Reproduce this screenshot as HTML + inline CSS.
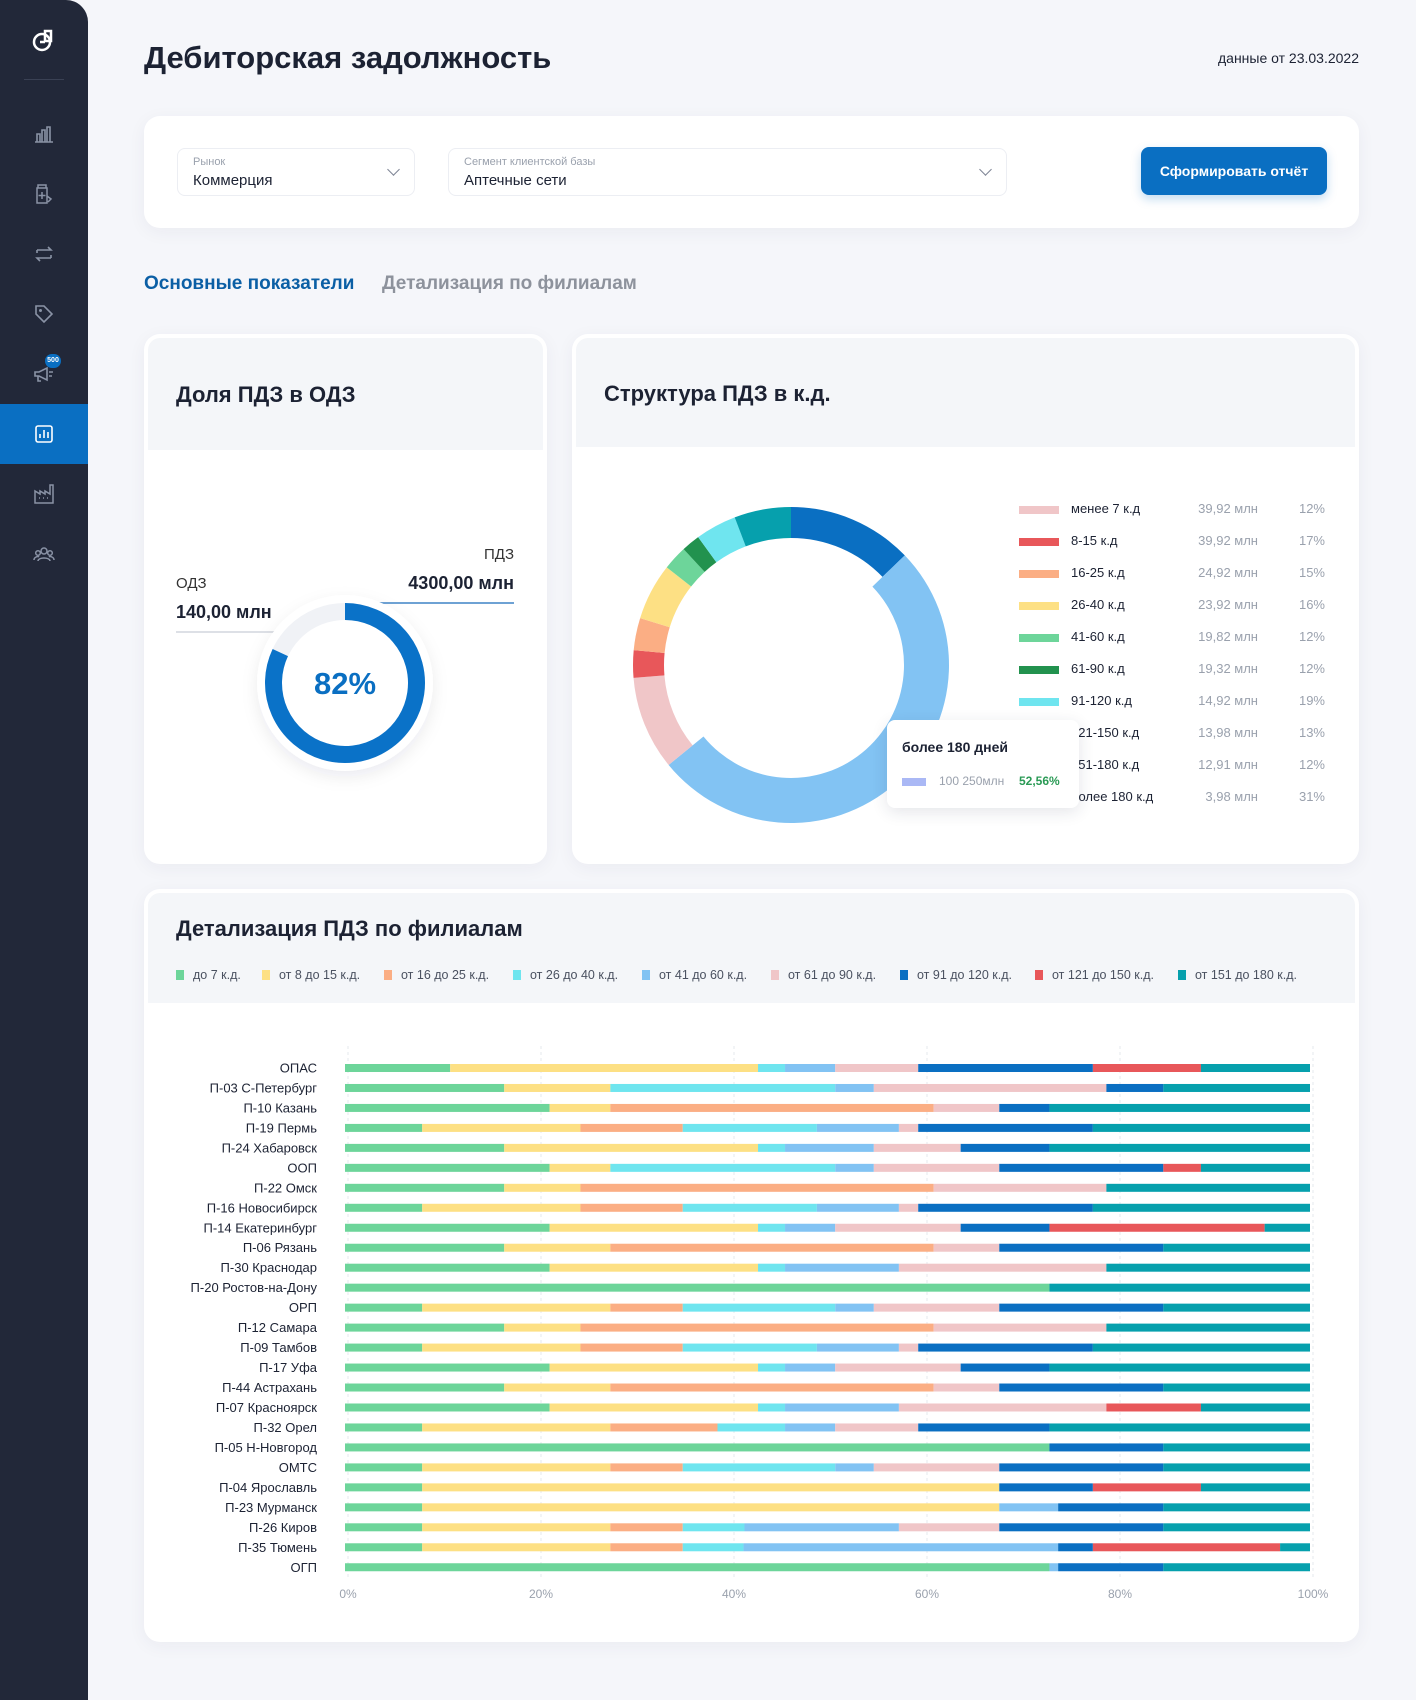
<!DOCTYPE html>
<html lang="ru"><head><meta charset="utf-8">
<style>
*{box-sizing:border-box;margin:0;padding:0}
body{width:1416px;height:1700px;background:#f5f6fa;font-family:"Liberation Sans","DejaVu Sans",sans-serif;color:#1c2233;position:relative;overflow:hidden}
.abs{position:absolute}
#sidebar{left:0;top:0;width:88px;height:1700px;background:#222839;border-top-right-radius:22px}
.ico{position:absolute;left:32px;width:24px;height:24px}
.card{position:absolute;background:#fff;border-radius:16px;box-shadow:0 4px 18px rgba(30,40,70,.05);overflow:hidden}
.chead{position:absolute;left:4px;right:4px;top:4px;background:#f4f6f9;border-radius:12px 12px 0 0}
.ctitle{position:absolute;font-weight:bold;font-size:22px;color:#1c2233}
.dd{position:absolute;top:148px;height:48px;border:1px solid #eceef3;border-radius:8px;background:#fff}
.dd .l{position:absolute;left:15px;top:7px;font-size:11px;color:#9aa1ad}
.dd .v{position:absolute;left:15px;top:23px;font-size:15px;color:#1c2233}
.dd .ch{position:absolute;right:16px;top:16px;width:9px;height:9px;border-right:1.6px solid #7d8494;border-bottom:1.6px solid #7d8494;transform:rotate(45deg)}
.lg{position:absolute;font-size:13px}
.leg2 span{display:inline-block}
</style></head><body>
<div id="sidebar" class="abs">
  <svg class="ico" style="top:27px;width:26px;height:26px;left:31px" viewBox="0 0 26 26"><circle cx="11" cy="15" r="8" fill="none" stroke="#fff" stroke-width="2.5"/><path d="M9 15h5 M14 4h6v10h-6z" stroke="#fff" stroke-width="2.5" fill="none"/></svg>
  <div class="abs" style="left:24px;top:79px;width:40px;height:1px;background:#3a4154"></div>
  <svg class="ico" style="top:122px" viewBox="0 0 24 24"><path d="M3 20h18M5 20v-8h3v8M10 20V8h3v12M15 20V5h3v15" stroke="#8a93a6" stroke-width="1.6" fill="none"/></svg>
  <svg class="ico" style="top:182px" viewBox="0 0 24 24"><path d="M6 3h8v3H6zM5 6h10v15H5zM10 10v7M6.5 13.5h7M15 14l4 3-3 3" stroke="#8a93a6" stroke-width="1.5" fill="none"/></svg>
  <svg class="ico" style="top:242px" viewBox="0 0 24 24"><path d="M5 8h14l-3-3M19 16H5l3 3M5 8v3M19 16v-3" stroke="#8a93a6" stroke-width="1.6" fill="none"/></svg>
  <svg class="ico" style="top:302px" viewBox="0 0 24 24"><path d="M4 4h8l8 8-8 8-8-8z" stroke="#8a93a6" stroke-width="1.6" fill="none"/><circle cx="8.5" cy="8.5" r="1.5" fill="#8a93a6"/></svg>
  <svg class="ico" style="top:362px" viewBox="0 0 24 24"><path d="M3 10h4l8-4v12l-8-4H3zM6 14v5h3M17 10h4M17 14h3" stroke="#8a93a6" stroke-width="1.6" fill="none"/></svg>
  <div class="abs" style="left:45px;top:354px;width:16px;height:14px;border-radius:7px;background:#0a6fc2;color:#fff;font-size:7px;font-weight:bold;text-align:center;line-height:14px">500</div>
  <div class="abs" style="left:0;top:404px;width:88px;height:60px;background:#0a6fc2"></div>
  <svg class="ico" style="top:422px" viewBox="0 0 24 24"><rect x="4" y="4" width="16" height="16" rx="2" stroke="#fff" stroke-width="1.6" fill="none"/><path d="M8 16v-4M12 16V8M16 16v-6" stroke="#fff" stroke-width="1.6"/></svg>
  <svg class="ico" style="top:482px" viewBox="0 0 24 24"><path d="M3 21V9l5 3V9l5 3V9l5 3V3h3v18zM7 16h1M11 16h1M15 16h1" stroke="#8a93a6" stroke-width="1.5" fill="none"/></svg>
  <svg class="ico" style="top:542px" viewBox="0 0 24 24"><circle cx="12" cy="9" r="3" stroke="#8a93a6" stroke-width="1.5" fill="none"/><circle cx="6" cy="11" r="2.3" stroke="#8a93a6" stroke-width="1.5" fill="none"/><circle cx="18" cy="11" r="2.3" stroke="#8a93a6" stroke-width="1.5" fill="none"/><path d="M6 19c0-4 12-4 12 0M2 18c0-3 4-4 5-3M22 18c0-3-4-4-5-3" stroke="#8a93a6" stroke-width="1.5" fill="none"/></svg>
</div>

<div class="abs" style="left:144px;top:40px;font-size:31px;font-weight:bold">Дебиторская задолжность</div>
<div class="abs" style="right:57px;top:50px;font-size:14px;color:#1c2233">данные от 23.03.2022</div>

<div class="card" style="left:144px;top:116px;width:1215px;height:112px"></div>
<div class="dd" style="left:177px;width:238px"><div class="l">Рынок</div><div class="v">Коммерция</div><div class="ch"></div></div>
<div class="dd" style="left:448px;width:559px"><div class="l">Сегмент клиентской базы</div><div class="v">Аптечные сети</div><div class="ch"></div></div>
<div class="abs" style="left:1141px;top:147px;width:186px;height:48px;border-radius:8px;background:#0a6fc2;color:#fff;font-size:14px;font-weight:bold;text-align:center;line-height:48px;box-shadow:0 4px 10px rgba(10,111,194,.25)">Сформировать отчёт</div>

<div class="abs" style="left:144px;top:273px;font-size:19px;font-weight:bold;color:#0b5fa5">Основные показатели</div>
<div class="abs" style="left:382px;top:273px;font-size:19px;font-weight:bold;color:#8d929c">Детализация по филиалам</div>

<!-- Card 1 -->
<div class="card" style="left:144px;top:334px;width:403px;height:530px">
  <div class="chead" style="height:112px"></div>
  <div class="ctitle" style="left:32px;top:48px">Доля ПДЗ в ОДЗ</div>
  <div class="abs" style="left:32px;top:241px;font-size:15px;color:#333">ОДЗ</div>
  <div class="abs" style="left:32px;top:268px;font-size:18px;font-weight:bold">140,00 млн</div>
  <div class="abs" style="left:32px;top:297px;width:114px;height:2px;background:#dde0e6"></div>
  <div class="abs" style="right:33px;top:212px;font-size:15px;color:#333">ПДЗ</div>
  <div class="abs" style="right:33px;top:239px;font-size:18px;font-weight:bold">4300,00 млн</div>
  <div class="abs" style="left:202px;top:268px;width:168px;height:2px;background:#6ea2d4"></div>
  <svg class="abs" style="left:0;top:0" width="403" height="530">
    <defs><filter id="sh" x="-30%" y="-30%" width="160%" height="160%"><feDropShadow dx="0" dy="6" stdDeviation="8" flood-color="#1c2a4a" flood-opacity=".08"/></filter></defs>
    <circle cx="201" cy="349" r="88" fill="#fff" filter="url(#sh)"/>
    <circle cx="201" cy="349" r="71.5" fill="none" stroke="#f0f2f6" stroke-width="17"/>
    <path id="shareArc" fill="none" stroke="#0a72c8" stroke-width="17"/>
    <text x="201" y="360" text-anchor="middle" font-size="31" font-weight="bold" fill="#0a6fc2">82%</text>
  </svg>
</div>

<!-- Card 2 -->
<div class="card" style="left:572px;top:334px;width:787px;height:530px">
  <div class="chead" style="height:109px"></div>
  <div class="ctitle" style="left:32px;top:47px">Структура ПДЗ в к.д.</div>
  <svg id="donut2" class="abs" style="left:0;top:0" width="787" height="530"></svg>
  <div id="legend2" class="abs" style="left:0;top:0;width:787px;height:530px"></div>
  <div class="abs" style="left:315px;top:386px;width:192px;height:88px;background:#fff;border-radius:8px;box-shadow:0 4px 16px rgba(30,40,70,.12)">
    <div class="abs" style="left:15px;top:19px;font-size:14px;font-weight:bold">более 180 дней</div>
    <div class="abs" style="left:15px;top:58px;width:24px;height:8px;background:#aab8f5"></div>
    <div class="abs" style="left:52px;top:54px;font-size:12px;color:#9aa1ad">100 250млн</div>
    <div class="abs" style="left:132px;top:54px;font-size:12px;color:#2a9a55;font-weight:bold">52,56%</div>
  </div>
</div>

<!-- Card 3 -->
<div class="card" style="left:144px;top:889px;width:1215px;height:753px">
  <div class="chead" style="height:110px"></div>
  <div class="ctitle" style="left:32px;top:27px">Детализация ПДЗ по филиалам</div>
  <div id="legend3" class="abs" style="left:0;top:0;width:1215px;height:110px"></div>
  <svg id="bars" class="abs" style="left:-144px;top:-889px" width="1416" height="1700"></svg>
</div>

<script>
// ---------- Donut 1 ----------
const shareValue = 82;
// ---------- Donut 2 data ----------
const segNames = ["91-120 blue","более 180","менее 7","8-15","16-25","26-40","41-60","61-90","91-120","151-180"];
const segValues = [12.8, 51.3, 9.6, 2.8, 3.3, 5.8, 2.5, 1.9, 4.2, 5.8];
const segColors = ["#0a6fc2","#82c3f3","#f0c6c8","#e8575a","#fbae84","#fde084","#6dd59a","#22924e","#6fe5ef","#06a0ad"];
const segHover = [false,true,false,false,false,false,false,false,false,false];
const legLabels = ["менее 7 к.д","8-15 к.д","16-25 к.д","26-40 к.д","41-60 к.д","61-90 к.д","91-120 к.д","121-150 к.д","151-180 к.д","более 180 к.д"];
const legValues = ["39,92 млн","39,92 млн","24,92 млн","23,92 млн","19,82 млн","19,32 млн","14,92 млн","13,98 млн","12,91 млн","3,98 млн"];
const legPercents = ["12%","17%","15%","16%","12%","12%","19%","13%","12%","31%"];
const legColors = ["#f0c6c8","#e8575a","#fbae84","#fde084","#6dd59a","#22924e","#6fe5ef","#06a0ad","#0a6fc2","#82c3f3"];
// ---------- Stacked bars data ----------
const seriesNames = ["до 7 к.д.","от 8 до 15 к.д.","от 16 до 25 к.д.","от 26 до 40 к.д.","от 41 до 60 к.д.","от 61 до 90 к.д.","от 91 до 120 к.д.","от 121 до 150 к.д.","от 151 до 180 к.д."];
const seriesColors = ["#6dd59a","#fde084","#fbae84","#6fe5ef","#82c3f3","#f0c6c8","#0a6fc2","#e8575a","#06a0ad"];
const branches = ["ОПАС","П-03 С-Петербург","П-10 Казань","П-19 Пермь","П-24 Хабаровск","ООП","П-22 Омск","П-16 Новосибирск","П-14 Екатеринбург","П-06 Рязань","П-30 Краснодар","П-20 Ростов-на-Дону","ОРП","П-12 Самара","П-09 Тамбов","П-17 Уфа","П-44 Астрахань","П-07 Красноярск","П-32 Орел","П-05 Н-Новгород","ОМТС","П-04 Ярославль","П-23 Мурманск","П-26 Киров","П-35 Тюмень","ОГП"];
const branchValues = [
 [10.9,31.9,0,2.8,5.2,8.6,18.1,11.2,11.3],
 [16.5,11,0,23.3,4,24.1,5.9,0,15.2],
 [21.2,6.3,33.5,0,0,6.8,5.2,0,27],
 [8,16.4,10.6,13.9,8.5,2,18.1,0,22.5],
 [16.5,26.3,0,2.8,9.2,9,9.2,0,27],
 [21.2,6.3,0,23.3,4,13,17,3.9,11.3],
 [16.5,7.9,36.6,0,0,17.9,0,0,21.1],
 [8,16.4,10.6,13.9,8.5,2,18.1,0,22.5],
 [21.2,21.6,0,2.8,5.2,13,9.2,22.3,4.7],
 [16.5,11,33.5,0,0,6.8,17,0,15.2],
 [21.2,21.6,0,2.8,11.8,21.5,0,0,21.1],
 [73,0,0,0,0,0,0,0,27],
 [8,19.5,7.5,15.8,4,13,17,0,15.2],
 [16.5,7.9,36.6,0,0,17.9,0,0,21.1],
 [8,16.4,10.6,13.9,8.5,2,18.1,0,22.5],
 [21.2,21.6,0,2.8,5.2,13,9.2,0,27],
 [16.5,11,33.5,0,0,6.8,17,0,15.2],
 [21.2,21.6,0,2.8,11.8,21.5,0,9.8,11.3],
 [8,19.5,11.1,7,5.2,8.6,13.6,0,27],
 [73,0,0,0,0,0,11.8,0,15.2],
 [8,19.5,7.5,15.8,4,13,17,0,15.2],
 [8,59.8,0,0,0,0,9.7,11.2,11.3],
 [8,59.8,0,0,6.1,0,10.9,0,15.2],
 [8,19.5,7.5,6.4,16,10.4,17,0,15.2],
 [8,19.5,7.5,6.3,32.6,0,3.6,19.4,3.1],
 [73,0,0,0,0.9,0,10.9,0,15.2]
];
const xTicks = [0,20,40,60,80,100];
const xTickLabels = ["0%","20%","40%","60%","80%","100%"];

const NS="http://www.w3.org/2000/svg";
function mk(tag, attrs, parent){const e=document.createElementNS(NS,tag);for(const k in attrs)e.setAttribute(k,attrs[k]);parent.appendChild(e);return e;}
function pol(cx,cy,r,deg){const a=(deg-90)*Math.PI/180;return [cx+r*Math.cos(a),cy+r*Math.sin(a)];}
function arcPath(cx,cy,r,a0,a1){const p0=pol(cx,cy,r,a0),p1=pol(cx,cy,r,a1);const large=(a1-a0)>180?1:0;return `M${p0[0]} ${p0[1]} A${r} ${r} 0 ${large} 1 ${p1[0]} ${p1[1]}`;}
function ringSeg(cx,cy,ro,ri,a0,a1){const p0=pol(cx,cy,ro,a0),p1=pol(cx,cy,ro,a1),q1=pol(cx,cy,ri,a1),q0=pol(cx,cy,ri,a0);const l=(a1-a0)>180?1:0;return `M${p0[0]} ${p0[1]} A${ro} ${ro} 0 ${l} 1 ${p1[0]} ${p1[1]} L${q1[0]} ${q1[1]} A${ri} ${ri} 0 ${l} 0 ${q0[0]} ${q0[1]} Z`;}

// donut 1
document.getElementById('shareArc').setAttribute('d',arcPath(201,349,71.5,0,shareValue/100*360));

// donut 2
const d2=document.getElementById('donut2');
const total=segValues.reduce((a,b)=>a+b,0);
let acc=0;
segValues.forEach((v,i)=>{
  const a0=acc/total*360, a1=(acc+v)/total*360; acc+=v;
  const p=mk('path',{d:ringSeg(219,331,158,segHover[i]?113:127,a0,a1),fill:segColors[i]},d2);
  
  
});
const L2=document.getElementById('legend2');
legLabels.forEach((lab,i)=>{
  const y=176+i*32;
  const row=document.createElement('div');
  
  
  row.style.cssText=`position:absolute;left:0;top:${y-9}px;width:787px;height:18px;font-size:13px`;
  row.innerHTML=`<span style="position:absolute;left:447px;top:5px;width:40px;height:8px;background:${legColors[i]}"></span><span style="position:absolute;left:499px;top:0;color:#1c2233">${lab}</span><span style="position:absolute;right:101px;top:0;color:#9aa1ad">${legValues[i]}</span><span style="position:absolute;right:34px;top:0;color:#9aa1ad">${legPercents[i]}</span>`;
  L2.appendChild(row);
});

// legend 3
const L3=document.getElementById('legend3');
const legX=[32,118,240,369,498,627,756,891,1034];
seriesNames.forEach((n,i)=>{
  const it=document.createElement('div');
  
  
  it.style.cssText=`position:absolute;left:${legX[i]}px;top:79px;font-size:12.5px;color:#4a5160;white-space:nowrap`;
  it.innerHTML=`<span style="display:inline-block;width:8px;height:10px;background:${seriesColors[i]};margin-right:9px;vertical-align:-1px"></span>${n}`;
  L3.appendChild(it);
});

// stacked bars
const sv=document.getElementById('bars');
const X0=345,X1=1310,Y0=1068,DY=19.97,BH=8;
const xs=v=>X0+v/100*(X1-X0);
xTicks.forEach((t,i)=>{
  const l=mk('line',{x1:xs(t)+3,x2:xs(t)+3,y1:1046,y2:1578,stroke:'#e6e8ee','stroke-dasharray':'3 3'},sv);
  
  
  const tx=mk('text',{x:xs(t)+3,y:1598,'text-anchor':'middle','font-size':12,fill:'#9aa1ad'},sv);
  tx.textContent=xTickLabels[i];
  
  
});
branches.forEach((b,r)=>{
  const y=Y0+r*DY;
  const t=mk('text',{x:317,y:y+4.5,'text-anchor':'end','font-size':13,fill:'#1c2233'},sv);
  t.textContent=b;
  
  
  let c=0;
  branchValues[r].forEach((v,k)=>{
    if(v<=0){return;}
    const rc=mk('rect',{x:xs(c),y:y-BH/2,width:xs(c+v)-xs(c),height:BH,fill:seriesColors[k]},sv);
    
    
    c+=v;
  });
});
</script>
</body></html>
